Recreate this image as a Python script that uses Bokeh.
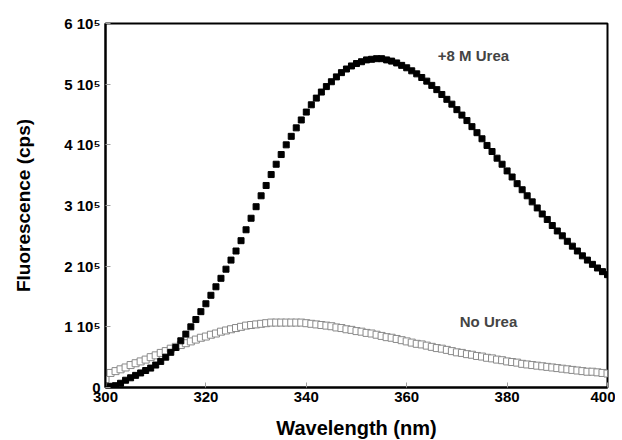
from bokeh.plotting import figure
from bokeh.models import Range1d, FixedTicker, Label
from bokeh.embed import file_html
from bokeh.resources import INLINE

wavelength = list(range(300, 401))

# +8 M Urea (units of 1e5 cps), 300..400 nm
urea_8m = [
    None, 0.02, 0.03, 0.07, 0.12, 0.16, 0.20, 0.24, 0.28, 0.32,
    0.37, 0.43, 0.50, 0.58, 0.66, 0.77, 0.88, 1.00, 1.12, 1.25,
    1.38, 1.52, 1.66, 1.80, 1.95, 2.10, 2.25, 2.42, 2.60, 2.79,
    2.98, 3.16, 3.33, 3.51, 3.68, 3.84, 4.00, 4.14, 4.28, 4.41,
    4.54, 4.66, 4.77, 4.87, 4.96, 5.04, 5.12, 5.19, 5.25, 5.30,
    5.34, 5.37, 5.40, 5.41, 5.42, 5.42, 5.40, 5.38, 5.35, 5.31,
    5.27, 5.22, 5.17, 5.11, 5.05, 4.98, 4.91, 4.83, 4.75, 4.67,
    4.58, 4.49, 4.40, 4.30, 4.20, 4.10, 3.99, 3.89, 3.78, 3.68,
    3.57, 3.47, 3.36, 3.26, 3.16, 3.06, 2.96, 2.86, 2.77, 2.67,
    2.58, 2.50, 2.41, 2.33, 2.25, 2.17, 2.10, 2.03, 1.97, 1.91,
    1.86,
]

# No Urea (units of 1e5 cps), 300..400 nm
no_urea = [
    0.14, 0.24, 0.27, 0.30, 0.33, 0.37, 0.40, 0.43, 0.46, 0.50,
    0.53, 0.57, 0.60, 0.64, 0.67, 0.70, 0.73, 0.76, 0.79, 0.82,
    0.84, 0.87, 0.89, 0.92, 0.94, 0.96, 0.98, 1.00, 1.02, 1.03,
    1.04, 1.05, 1.06, 1.07, 1.07, 1.07, 1.07, 1.07, 1.07, 1.07,
    1.06, 1.05, 1.04, 1.03, 1.02, 1.01, 0.99, 0.98, 0.96, 0.95,
    0.93, 0.92, 0.90, 0.89, 0.87, 0.85, 0.83, 0.82, 0.80, 0.78,
    0.76, 0.74, 0.72, 0.71, 0.69, 0.67, 0.65, 0.64, 0.62, 0.60,
    0.58, 0.57, 0.55, 0.54, 0.52, 0.51, 0.49, 0.48, 0.46, 0.45,
    0.43, 0.42, 0.41, 0.39, 0.38, 0.37, 0.36, 0.35, 0.34, 0.33,
    0.32, 0.31, 0.30, 0.29, 0.28, 0.27, 0.26, 0.26, 0.25, 0.24,
    0.23,
]

x_ticks = [300, 320, 340, 360, 380, 400]
y_ticks = [0, 1e5, 2e5, 3e5, 4e5, 5e5, 6e5]
y_tick_labels = ["0", "1 10\u2075", "2 10\u2075", "3 10\u2075", "4 10\u2075", "5 10\u2075", "6 10\u2075"]

FONT = "Liberation Sans"

p = figure(
    output_backend="svg", toolbar_location=None,
    frame_width=502, frame_height=364,
    min_border_left=105, min_border_top=23, min_border_right=8, min_border_bottom=5,
    x_range=Range1d(300, 400), y_range=Range1d(0, 6e5),
    background_fill_color="white", border_fill_color="white",
)
p.grid.visible = False
p.outline_line_color = "black"
p.outline_line_width = 2

y8 = [None if v is None else v * 1e5 for v in urea_8m]
y0 = [v * 1e5 for v in no_urea]

p.scatter(wavelength, y0, marker="square", size=7, fill_color="white",
          line_color="#8a8a8a", line_width=1)
p.scatter(wavelength[1:], y8[1:], marker="square", size=6, fill_color="black",
          line_color="black")

for ax in (p.xaxis[0], p.yaxis[0]):
    ax.axis_line_color = "black"
    ax.axis_line_width = 2
    ax.major_tick_in = 5
    ax.major_tick_out = 0
    ax.major_tick_line_color = "#a0a0a0"
    ax.minor_tick_line_color = None
    ax.major_label_text_font = FONT
    ax.major_label_text_font_style = "bold"
    ax.major_label_text_color = "black"
    ax.axis_label_text_font = FONT
    ax.axis_label_text_font_style = "bold"
    ax.axis_label_text_color = "black"

p.xaxis.ticker = FixedTicker(ticks=x_ticks)
p.yaxis.ticker = FixedTicker(ticks=y_ticks)
p.yaxis.major_label_overrides = {t: s for t, s in zip(y_ticks, y_tick_labels)}
p.xaxis.major_label_text_font_size = "15px"
p.yaxis.major_label_text_font_size = "15px"
p.xaxis.major_label_standoff = 4
p.yaxis.major_label_standoff = 5
p.xaxis.axis_label = "Wavelength (nm)"
p.yaxis.axis_label = "Fluorescence (cps)"
p.xaxis.axis_label_text_font_size = "20px"
p.yaxis.axis_label_text_font_size = "19px"
p.xaxis.axis_label_standoff = 12
p.yaxis.axis_label_standoff = 27

p.add_layout(Label(x=373.3, y=5.47e5, text="+8 M Urea", text_font=FONT,
                   text_font_style="bold", text_font_size="15px",
                   text_align="center", text_baseline="middle"))
p.add_layout(Label(x=376.3, y=1.09e5, text="No Urea", text_font=FONT,
                   text_font_style="bold", text_font_size="15px",
                   text_align="center", text_baseline="middle"))

open("out.html", "w").write(file_html(p, INLINE))
